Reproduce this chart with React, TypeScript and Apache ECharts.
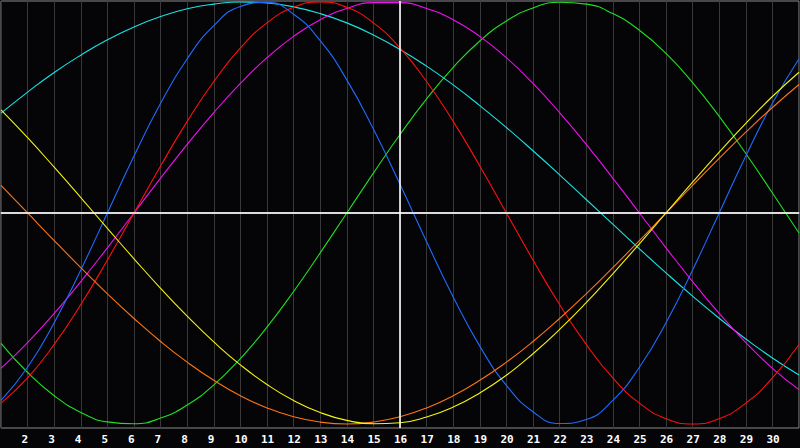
import React, { useEffect, useRef } from "react";
import * as echarts from "echarts";

const days: number[] = [
  1, 2, 3, 4, 5, 6, 7, 8, 9, 10, 11, 12, 13, 14, 15, 16,
  17, 18, 19, 20, 21, 22, 23, 24, 25, 26, 27, 28, 29, 30, 31,
];

const cyanValues: number[] = [
  0.473, 0.573, 0.666, 0.748, 0.821, 0.882, 0.931, 0.968, 0.99, 1.0, 0.995,
  0.977, 0.945, 0.901, 0.844, 0.775, 0.696, 0.607, 0.509, 0.405, 0.295, 0.181,
  0.064, -0.053, -0.17, -0.284, -0.394, -0.499, -0.597, -0.687, -0.768,
];

const greenValues: number[] = [
  -0.618, -0.756, -0.866, -0.945, -0.99, -0.999, -0.972, -0.91, -0.815, -0.69,
  -0.541, -0.372, -0.189, 0, 0.189, 0.372, 0.541, 0.69, 0.815, 0.91, 0.972,
  0.999, 0.99, 0.945, 0.866, 0.756, 0.618, 0.458, 0.282, 0.095, -0.095,
];

const magentaValues: number[] = [
  -0.736, -0.614, -0.476, -0.325, -0.165, 0, 0.165, 0.325, 0.476, 0.614, 0.736,
  0.837, 0.916, 0.969, 0.997, 0.997, 0.969, 0.916, 0.837, 0.736, 0.614, 0.476,
  0.325, 0.165, 0, -0.165, -0.325, -0.476, -0.614, -0.736, -0.837,
];

const redValues: number[] = [
  -0.901, -0.782, -0.623, -0.434, -0.223, 0, 0.223, 0.434, 0.623, 0.782, 0.901,
  0.975, 1.0, 0.975, 0.901, 0.782, 0.623, 0.434, 0.223, 0, -0.223, -0.434,
  -0.623, -0.782, -0.901, -0.975, -1.0, -0.975, -0.901, -0.782, -0.623,
];

const blueValues: number[] = [
  -0.888, -0.731, -0.52, -0.27, 0, 0.27, 0.52, 0.731, 0.888, 0.979, 0.998,
  0.942, 0.817, 0.631, 0.398, 0.136, -0.136, -0.398, -0.631, -0.817, -0.942,
  -0.998, -0.979, -0.888, -0.731, -0.52, -0.27, 0, 0.27, 0.52, 0.731,
];

const orangeValues: number[] = [
  0.131, 0, -0.131, -0.259, -0.383, -0.5, -0.609, -0.707, -0.793, -0.866,
  -0.924, -0.966, -0.991, -1.0, -0.991, -0.966, -0.924, -0.866, -0.793, -0.707,
  -0.609, -0.5, -0.383, -0.259, -0.131, 0, 0.131, 0.259, 0.383, 0.5, 0.609,
];

const yellowValues: number[] = [
  0.489, 0.357, 0.217, 0.073, -0.073, -0.217, -0.357, -0.489, -0.611, -0.72,
  -0.813, -0.889, -0.946, -0.983, -0.999, -0.994, -0.967, -0.92, -0.853, -0.769,
  -0.667, -0.552, -0.425, -0.288, -0.146, 0, 0.146, 0.288, 0.425, 0.552, 0.667,
];

const todayMarker = 16;
const centerValue = 0;

const seriesDefs: { name: string; values: number[]; color: string }[] = [
  { name: "cyan", values: cyanValues, color: "#19e3e3" },
  { name: "green", values: greenValues, color: "#1fe01f" },
  { name: "magenta", values: magentaValues, color: "#f010f0" },
  { name: "red", values: redValues, color: "#ff1010" },
  { name: "blue", values: blueValues, color: "#1e6cff" },
  { name: "orange", values: orangeValues, color: "#ff7410" },
  { name: "yellow", values: yellowValues, color: "#f4f410" },
];

export default function App() {
  const ref = useRef<HTMLDivElement>(null);

  useEffect(() => {
    if (!ref.current) return;
    const chart = echarts.init(ref.current, undefined, { renderer: "svg" });
    const series: any[] = seriesDefs.map((s, idx) => ({
      name: s.name,
      type: "line",
      smooth: true,
      showSymbol: false,
      symbol: "none",
      silent: true,
      lineStyle: { color: s.color, width: 1.1 },
      data: days.map((d, i) => [d, s.values[i]]),
      ...(idx === 0
        ? {
            markLine: {
              silent: true,
              symbol: "none",
              label: { show: false },
              lineStyle: { color: "#ffffff", type: "solid", width: 1.6 },
              data: [{ xAxis: todayMarker }, { yAxis: centerValue }],
            },
          }
        : {}),
    }));

    chart.setOption({
      animation: false,
      backgroundColor: "#050508",
      grid: {
        left: 1,
        top: 1,
        width: 798,
        height: 427,
        show: true,
        borderColor: "#8c8c8c",
        borderWidth: 1,
        backgroundColor: "transparent",
      },
      xAxis: {
        type: "value",
        min: 1,
        max: 31,
        interval: 1,
        axisLine: { show: true, lineStyle: { color: "#9a9a9a", width: 1.5 } },
        axisTick: { show: false },
        splitLine: { show: true, lineStyle: { color: "#383838", width: 1 } },
        axisLabel: {
          show: true,
          showMinLabel: false,
          showMaxLabel: false,
          color: "#ffffff",
          fontFamily: "DejaVu Sans Mono",
          fontWeight: "bold",
          fontSize: 11,
          margin: 6,
          align: "left",
          padding: [0, 0, 0, -6],
        },
      },
      yAxis: {
        type: "value",
        min: -1.019,
        max: 1.0047,
        show: false,
        splitLine: { show: false },
      },
      series,
    });

    return () => {
      chart.dispose();
    };
  }, []);

  return (
    <div
      ref={ref}
      style={{
        position: "fixed",
        left: 0,
        top: 0,
        width: 800,
        height: 448,
      }}
    />
  );
}
